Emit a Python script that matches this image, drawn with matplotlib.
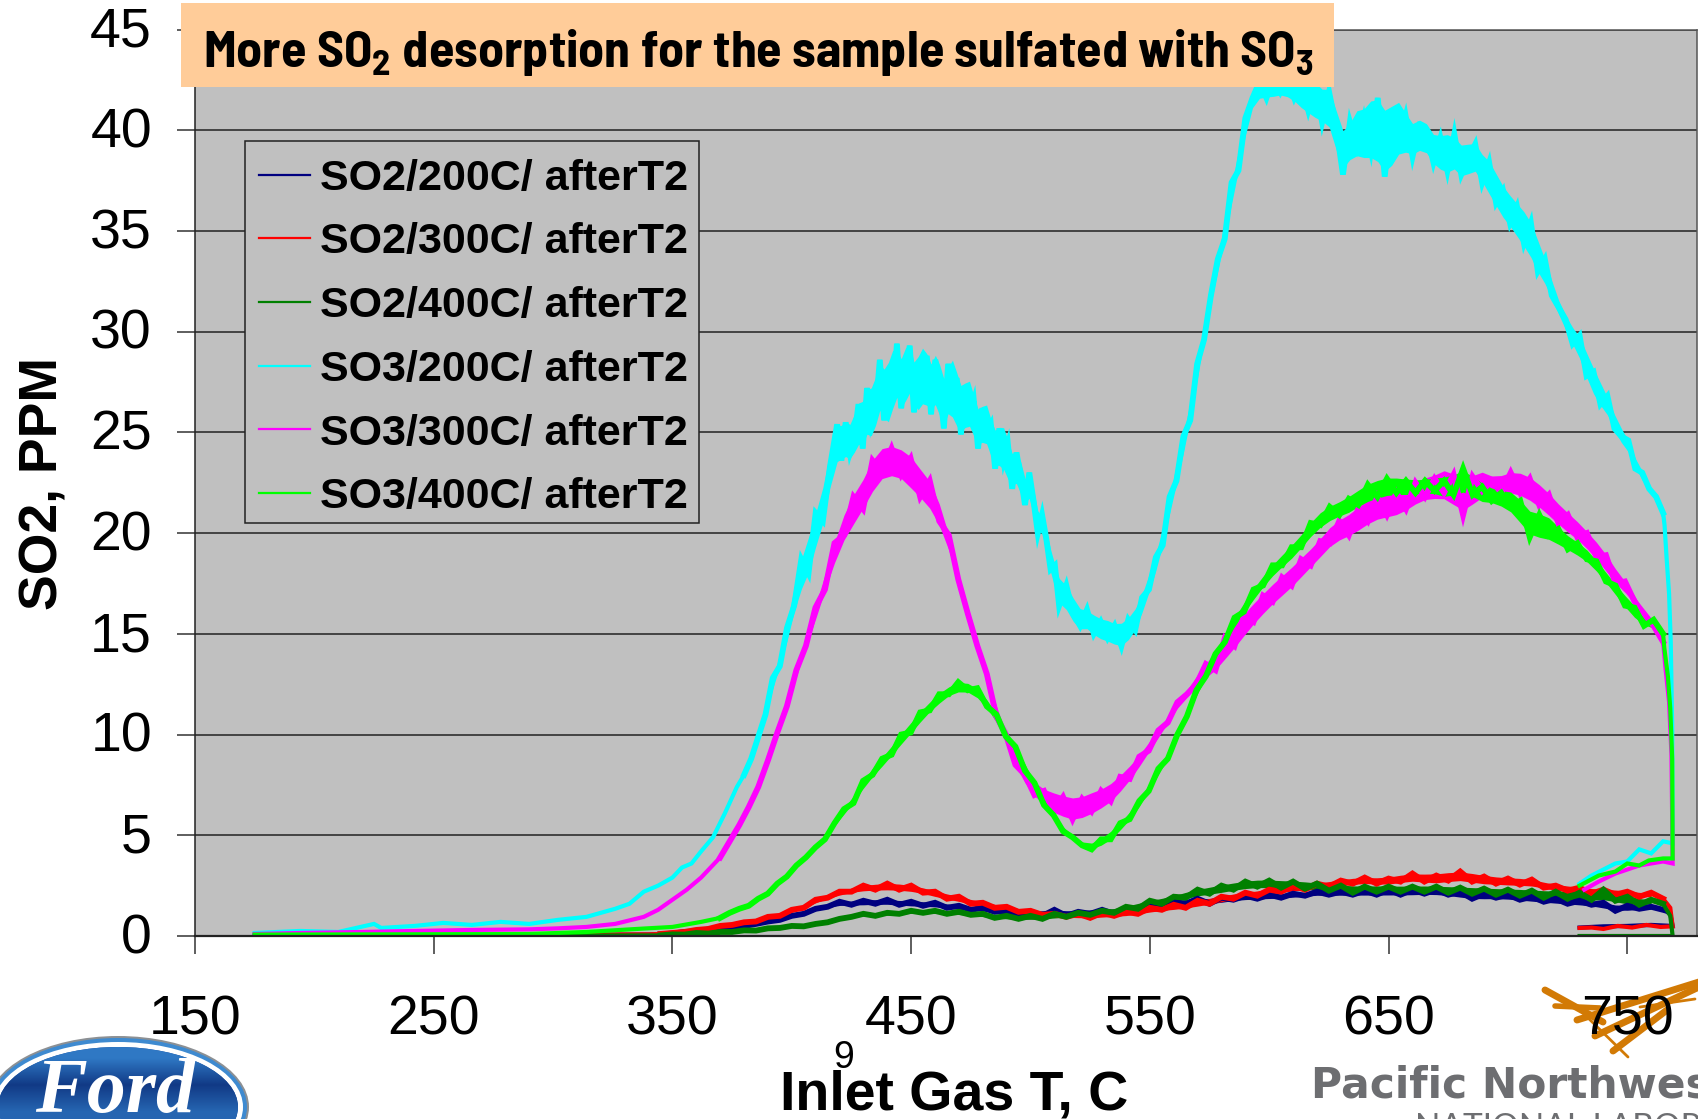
import numpy as np
import matplotlib
matplotlib.use('Agg')
import matplotlib.pyplot as plt
from matplotlib import font_manager as fm
from matplotlib.colors import LinearSegmentedColormap
from matplotlib.lines import Line2D
from matplotlib.patches import Ellipse, Rectangle
from matplotlib.transforms import ScaledTranslation

W, H = 1699, 1119

# narrow bold face for the title, when there is one
names = fm.get_font_names()
narrow = 'Barlow Semi Condensed' if 'Barlow Semi Condensed' in names else 'Liberation Sans'
plt.rcParams['font.family'] = ['Liberation Sans', 'DejaVu Sans']
plt.rcParams['mathtext.fontset'] = 'custom'
plt.rcParams['mathtext.bf'] = narrow + ':bold'
plt.rcParams['mathtext.rm'] = narrow + ':bold'
plt.rcParams['figure.dpi'] = 100

x_ticks = [150, 250, 350, 450, 550, 650, 750]
y_ticks = [0, 5, 10, 15, 20, 25, 30, 35, 40, 45]
labels = ['SO2/200C/ afterT2', 'SO2/300C/ afterT2', 'SO2/400C/ afterT2',
          'SO3/200C/ afterT2', 'SO3/300C/ afterT2', 'SO3/400C/ afterT2']
colors = ['#000080', '#FF0000', '#008000', '#00FFFF', '#FF00FF', '#00FF00']

# slow start of each run
head_x_low = [175, 220, 260, 300, 340]
navy_head = [0.05, 0.04, 0.06, 0.05, 0.07]
red_head = [0.05, 0.05, 0.04, 0.06, 0.08]
dgreen_head = [0.03, 0.02, 0.03, 0.02, 0.03]

cyan_head_x = [175, 194, 210, 225, 228, 242, 254, 266, 278, 290, 302, 314, 326, 332, 338, 344, 350, 354, 358, 362, 367, 372, 377]
cyan_head = [0.15, 0.25, 0.2, 0.6, 0.4, 0.5, 0.65, 0.55, 0.7, 0.6, 0.8, 0.95, 1.35, 1.6, 2.2, 2.5, 2.9, 3.4, 3.6, 4.2, 4.9, 6.1, 7.4]
magenta_head_x = [175, 194, 220, 242, 266, 290, 302, 314, 326, 338, 344, 350, 356, 362, 366]
magenta_head = [0.1, 0.15, 0.2, 0.25, 0.3, 0.33, 0.38, 0.45, 0.6, 0.95, 1.3, 1.8, 2.3, 2.9, 3.4]
green_head_x = [175, 220, 270, 290, 314, 338, 350, 362]
green_head = [0.07, 0.08, 0.09, 0.1, 0.2, 0.37, 0.45, 0.7]

# noisy middle part of each run, evenly spaced in temperature inside each span
cyan_spans = [(380, 416), (419, 512), (515, 590), (593, 765)]
cyan_rise = [8.0, 8.8, 9.9, 11.0, 12.8, 13.4, 15.3, 16.4, 18.7, 18.0, 21.0, 20.6, 23.3]
cyan_peak = [25.4, 23.6, 25.5, 24.0, 24.7, 26.4, 24.2, 27.2, 25.4, 26.1, 28.6, 25.6, 27.9, 26.6, 29.4, 26.2, 28.0,
             29.3, 26.0, 28.4, 27.0, 28.8, 25.9, 28.6, 27.3, 25.2, 28.4, 26.3, 27.7, 24.9, 27.3, 25.9, 26.6, 24.2,
             26.2, 25.0, 25.4, 23.2, 25.2, 23.6, 24.4, 22.2, 24.0, 22.8, 21.4, 23.0, 21.6, 20.0, 20.9, 19.7, 18.2,
             18.4, 16.4]
cyan_dip = [17.4, 16.0, 15.4, 16.2, 15.0, 15.6, 14.8, 15.4, 14.4, 15.7, 15.2, 16.8, 17.2, 18.8, 19.4, 21.8, 22.6,
            24.8, 25.6, 28.4, 29.6, 31.8, 33.6, 34.6, 37.4, 38.0, 40.6]
cyan_top = [41.6, 42.4, 41.6, 42.6, 41.9, 42.6, 41.6, 42.3, 41.0, 42.3, 40.4, 41.9, 40.2, 37.8, 40.4, 39.2, 40.6,
            39.0, 41.6, 37.7, 40.9, 39.4, 40.7, 38.7, 40.2, 39.9, 38.4, 39.6, 38.0, 39.8, 37.8, 38.6, 39.3, 37.4,
            38.4, 36.4, 37.0, 35.4, 36.2, 34.4, 35.4, 33.0, 33.6, 31.8, 31.2, 30.6, 29.4, 29.8, 27.8, 28.0, 26.4,
            26.8, 25.2, 24.8, 24.6, 23.2, 23.0, 22.2, 21.8, 21.0]
magenta_spans = [(370, 765)]
magenta_body = [3.9, 4.7, 5.5, 6.4, 7.4, 8.7, 10.1, 11.4, 13.2, 14.4, 16.3, 17.2, 19.5, 19.9, 21.8, 21.2, 23.6, 23.0,
                24.2, 22.9, 23.7, 21.8, 22.6, 20.6, 19.9, 17.7, 16.0, 14.4, 13.0, 10.9, 10.0, 8.5, 8.0, 7.0, 7.2, 6.2,
                6.9, 5.8, 6.8, 6.2, 7.2, 6.7, 7.9, 7.8, 8.9, 9.2, 10.2, 10.6, 11.6, 12.0, 12.5, 13.5, 13.2, 14.8, 14.4,
                15.9, 15.6, 16.9, 16.6, 17.8, 17.4, 18.7, 18.4, 19.6, 19.5, 20.6, 19.9, 21.2, 20.6, 21.8, 20.9, 22.0,
                21.2, 22.5, 21.8, 22.7, 22.0, 22.9, 20.9, 22.8, 22.1, 22.6, 22.0, 23.0, 22.0, 22.7, 21.4, 21.9, 20.5,
                20.9, 19.8, 20.0, 18.8, 18.9, 17.5, 17.6, 16.6, 16.0, 15.4, 14.6]
green_spans = [(370, 765)]
green_body = [0.9, 1.15, 1.35, 1.5, 1.85, 2.1, 2.6, 2.95, 3.5, 3.9, 4.4, 4.8, 5.6, 6.3, 6.6, 7.7, 8.0, 8.8, 9.0, 10.0,
              10.1, 11.1, 11.2, 12.0, 12.0, 12.6, 12.2, 12.3, 11.4, 11.0, 9.9, 9.4, 8.2, 7.6, 6.5, 6.0, 5.2, 4.9, 4.5,
              4.3, 4.8, 4.8, 5.6, 5.8, 6.7, 7.2, 8.3, 8.8, 10.0, 10.9, 12.2, 12.9, 14.0, 14.6, 15.8, 16.1, 17.2, 17.4,
              18.4, 18.4, 19.3, 19.3, 20.5, 20.4, 21.3, 20.9, 21.7, 21.4, 22.4, 21.8, 22.7, 22.0, 22.6, 22.0, 22.6,
              22.1, 22.6, 21.9, 23.2, 21.9, 22.3, 21.6, 22.0, 21.3, 21.6, 19.8, 20.9, 19.9, 20.2, 19.2, 19.5, 18.7,
              18.6, 17.6, 17.4, 16.4, 16.3, 15.4, 15.7, 15.0]
low_spans = [(345, 765)]
navy_body = [0.08, 0.12, 0.2, 0.22, 0.32, 0.33, 0.45, 0.5, 0.6, 0.72, 0.8, 1.0, 1.1, 1.35, 1.45, 1.7, 1.55, 1.75, 1.6,
             1.8, 1.55, 1.7, 1.5, 1.65, 1.4, 1.5, 1.3, 1.4, 1.2, 1.25, 1.1, 1.2, 1.0, 1.3, 1.0, 1.2, 1.1, 1.3, 1.1,
             1.4, 1.3, 1.5, 1.45, 1.7, 1.6, 1.85, 1.6, 1.9, 1.8, 2.0, 1.85, 2.05, 1.9, 2.1, 2.0, 2.2, 2.05, 2.2, 2.05,
             2.25, 2.05, 2.3, 2.05, 2.3, 2.1, 2.3, 2.05, 2.2, 1.85, 2.1, 1.9, 2.05, 1.8, 1.95, 1.7, 1.85, 1.6, 1.75,
             1.55, 1.65, 1.25, 1.5, 1.35, 1.45, 1.3]
red_body = [0.1, 0.15, 0.2, 0.3, 0.35, 0.5, 0.55, 0.68, 0.72, 0.95, 1.0, 1.3, 1.4, 1.8, 1.9, 2.2, 2.2, 2.5, 2.3, 2.6,
            2.3, 2.5, 2.15, 2.2, 1.85, 1.95, 1.6, 1.65, 1.4, 1.45, 1.2, 1.25, 1.05, 1.1, 0.95, 1.1, 0.9, 1.15, 1.0,
            1.2, 1.1, 1.4, 1.3, 1.55, 1.4, 1.75, 1.6, 1.95, 1.85, 2.15, 2.0, 2.3, 2.2, 2.5, 2.3, 2.6, 2.45, 2.75, 2.6,
            2.9, 2.6, 2.85, 2.7, 3.1, 2.7, 3.0, 2.75, 3.2, 2.7, 2.95, 2.6, 2.85, 2.55, 2.8, 2.4, 2.5, 2.25, 2.4, 2.1,
            2.3, 2.05, 2.2, 1.95, 2.15, 1.85]
dgreen_body = [0.03, 0.08, 0.07, 0.15, 0.12, 0.2, 0.2, 0.28, 0.27, 0.38, 0.4, 0.5, 0.48, 0.6, 0.68, 0.85, 0.95, 1.1,
               1.0, 1.15, 1.1, 1.25, 1.15, 1.25, 1.1, 1.2, 1.05, 1.1, 0.9, 1.0, 0.85, 1.0, 0.85, 1.1, 0.95, 1.15, 1.05,
               1.25, 1.15, 1.45, 1.35, 1.75, 1.6, 1.95, 1.9, 2.3, 2.1, 2.5, 2.3, 2.7, 2.45, 2.75, 2.4, 2.7, 2.35, 2.6,
               2.25, 2.5, 2.15, 2.45, 2.2, 2.45, 2.2, 2.45, 2.2, 2.45, 2.15, 2.4, 2.1, 2.35, 2.05, 2.3, 2.0, 2.25, 1.9,
               2.2, 1.85, 2.15, 1.8, 2.3, 1.75, 1.95, 1.55, 1.8, 1.6]

# sharp drop at the hottest point, then the short second branch back to 730 C
cyan_end_x = [765.6, 766.5, 767.5, 768.2, 768.8, 769, 765, 760, 755, 750, 745, 740, 735, 730]
cyan_end = [20.4, 18.7, 17.0, 14.6, 10.4, 4.6, 4.7, 4.1, 4.3, 3.7, 3.6, 3.3, 3.0, 2.6]
magenta_end_x = [766, 767.5, 768.5, 769, 765, 755, 745, 738, 732]
magenta_end = [13.3, 11.6, 9.0, 3.6, 3.7, 3.5, 3.1, 2.7, 2.3]
green_end_x = [765.5, 767, 768, 768.8, 769, 765, 759, 755, 750, 745, 738, 730]
green_end = [14.3, 12.9, 11.3, 8.8, 3.85, 3.85, 3.75, 3.5, 3.6, 3.2, 3.0, 2.5]
navy_end_x = [768, 769, 760, 750, 740, 730]
navy_end = [1.1, 0.5, 0.55, 0.5, 0.48, 0.42]
red_end_x = [768, 769, 764, 758, 752, 746, 740, 735, 730]
red_end = [1.4, 0.48, 0.45, 0.55, 0.42, 0.5, 0.35, 0.42, 0.4]
dgreen_end_x = [768, 769, 730]
dgreen_end = [1.0, 0.0, 0.0]

runs = [
    (head_x_low, navy_head, low_spans, [navy_body], navy_end_x, navy_end),
    (head_x_low, red_head, low_spans, [red_body], red_end_x, red_end),
    (head_x_low, dgreen_head, low_spans, [dgreen_body], dgreen_end_x, dgreen_end),
    (cyan_head_x, cyan_head, cyan_spans, [cyan_rise, cyan_peak, cyan_dip, cyan_top], cyan_end_x, cyan_end),
    (magenta_head_x, magenta_head, magenta_spans, [magenta_body], magenta_end_x, magenta_end),
    (green_head_x, green_head, green_spans, [green_body], green_end_x, green_end),
]

fig = plt.figure(figsize=(W / 100, H / 100), dpi=100, facecolor='white')

# logos sit behind the axes
bg = fig.add_axes([0, 0, 1, 1], zorder=0)
bg.axis('off')
bg.add_patch(Ellipse((118, 1107), 262, 142, fc='#8C9094', ec='none'))
bg.add_patch(Ellipse((118, 1107), 258, 138, fc='#3E8AD0', ec='none'))
bg.add_patch(Ellipse((118, 1107), 250, 130, fc='white', ec='none'))
inner = Ellipse((118, 1107), 240, 120, fc='#164C9C', ec='none')
bg.add_patch(inner)
shade = bg.imshow(np.array([[0.0], [1.0], [0.3]]), extent=(-10, 240, 1125, 1045), aspect='auto',
                  interpolation='bilinear', zorder=1,
                  cmap=LinearSegmentedColormap.from_list('ford', ['#2F78C4', '#113A86']))
shade.set_clip_path(inner)
bg.set_xlim(0, W)
bg.set_ylim(H, 0)
bg.text(115, 1112, 'Ford', color='white', fontsize=56, family='Liberation Serif', style='italic',
        weight='bold', ha='center', va='baseline', zorder=2)

orange = '#D27A05'
for x0, y0, x1, y1, lw in [(1545, 990, 1603, 1022, 5), (1555, 1006, 1600, 1008, 4), (1577, 1020, 1699, 982, 5),
                           (1595, 1036, 1699, 987, 5), (1613, 1051, 1667, 1010, 5), (1583, 1013, 1628, 1057, 2),
                           (1640, 1007, 1695, 999, 2)]:
    bg.plot([x0, x1], [y0, y1], color=orange, lw=lw, solid_capstyle='round')
bg.text(1311, 1098, 'Pacific Northwest', color='#6D6E71', fontsize=30.5, family='DejaVu Sans', weight='bold',
        ha='left', va='baseline')
bg.text(1415, 1113, 'NATIONAL LABORATORY', color='#6D6E71', fontsize=24, family='Lato', weight='normal',
        ha='left', va='top')

# main chart
ax = fig.add_axes([195 / W, 1 - 936 / H, (1697 - 195) / W, (936 - 29.5) / H], zorder=1)
ax.set_facecolor('#C0C0C0')
ax.set_xlim(150, 779.2)
ax.set_ylim(0, 45)
ax.set_xticks(x_ticks)
ax.set_yticks(y_ticks)
ax.tick_params(axis='x', length=13, width=1.1, color='#333333', labelsize=40, pad=29)
ax.tick_params(axis='y', length=13, width=1.1, color='#333333', labelsize=40, pad=18)
ax.grid(axis='y', color='#222222', lw=1.1)
ax.set_axisbelow(True)
for s in ax.spines.values():
    s.set_color('#555555')
    s.set_linewidth(1.1)
ax.spines['left'].set_color('#222222')
ax.spines['bottom'].set_color('#222222')
ax.spines['bottom'].set_linewidth(1.6)

up = ScaledTranslation(0, 2 / 72, fig.dpi_scale_trans)
for t in ax.get_yticklabels():
    t.set_transform(t.get_transform() + up)

for (hx, hy, spans, parts, ex, ey), c in zip(runs, colors):
    bx = np.concatenate([np.linspace(a, b, len(p)) for (a, b), p in zip(spans, parts)])
    by = np.concatenate(parts)
    # thick core of the noisy trace, taken from how much the read values jump about
    around = (by[:-2] + by[2:]) / 2
    rough = np.convolve(np.abs(by[1:-1] - around), np.ones(5) / 5, mode='same')
    mid = (around + by[1:-1]) / 2
    ax.fill_between(bx[1:-1], mid - rough * 0.6, mid + rough * 0.6, color=c, lw=0)
    ax.plot(np.concatenate([hx, bx, ex]), np.concatenate([hy, by, ey]), color=c, lw=3.0, solid_joinstyle='miter')
    ax.plot(bx, by, color=c, lw=4.2, solid_joinstyle='miter')

ax.set_xlabel('Inlet Gas T, C', fontsize=40, fontweight='bold', va='center')
ax.set_ylabel('SO2, PPM', fontsize=38.5, fontweight='bold', va='center')
ax.xaxis.set_label_coords((954 - 195) / 1502, (936 - 1095) / 906.5)
ax.yaxis.set_label_coords((44 - 195) / 1502, (936 - 484) / 906.5)

# legend, title banner and slide number on top of everything
top = fig.add_axes([0, 0, 1, 1], zorder=2)
top.set_xlim(0, W)
top.set_ylim(H, 0)
top.axis('off')
top.add_patch(Rectangle((245, 141), 454, 382, fc='#C0C0C0', ec='#222222', lw=1.1))
handles = [Line2D([], [], color=c, lw=1.6) for c in colors]
top.legend(handles, labels, loc='upper left', bbox_to_anchor=(259.4 / W, 1 - 158.8 / H),
           bbox_transform=fig.transFigure, borderaxespad=0, frameon=False, handlelength=1.18, handletextpad=0.23,
           labelspacing=0.55, borderpad=0, prop={'size': 31, 'weight': 'bold'})

top.add_patch(Rectangle((181, 3), 1334 - 181, 84, fc='#FFCC99', ec='none'))
title = top.text(203, 47, r'More SO$_{\mathbf{2}}$ desorption for the sample sulfated with SO$_{\mathbf{3}}$',
                 family=narrow, fontsize=40, weight='bold', ha='left', va='center_baseline', color='black')
width = title.get_window_extent(fig.canvas.get_renderer()).width
title.set_fontsize(40 * 1111 / width)
top.text(844, 1058, '9', fontsize=27, ha='center', va='center', color='black')

fig.savefig('out.png', dpi=100)
